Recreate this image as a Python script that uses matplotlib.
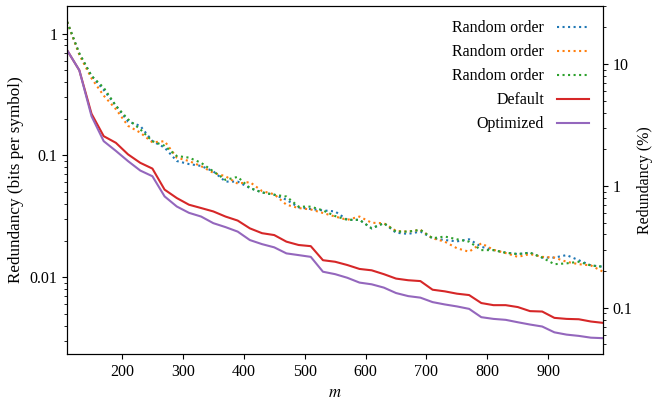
import matplotlib
matplotlib.use("Agg")
import matplotlib.pyplot as plt
from matplotlib.ticker import FuncFormatter, NullFormatter

plt.rcParams['font.family'] = ['Liberation Serif', 'DejaVu Serif']
plt.rcParams['mathtext.fontset'] = 'stix'
plt.rcParams['font.size'] = 11.5

m = list(range(110, 1000, 20))

random_a = [1.25, 0.68, 0.45, 0.345, 0.256, 0.19, 0.175, 0.131, 0.116, 0.09, 0.085,
            0.082, 0.074, 0.061, 0.061, 0.054, 0.0497, 0.0476, 0.0433, 0.0375, 0.0363,
            0.0354, 0.0347, 0.0296, 0.0296, 0.0252, 0.0278, 0.0232, 0.0227, 0.0237, 0.0209,
            0.0202, 0.0197, 0.0205, 0.0178, 0.0167, 0.0159, 0.0155, 0.0159, 0.0145, 0.0145,
            0.0152, 0.0138, 0.0125, 0.0122]
random_b = [1.25, 0.67, 0.43, 0.31, 0.24, 0.175, 0.154, 0.128, 0.131, 0.096, 0.09,
            0.0817, 0.072, 0.0675, 0.0587, 0.0605, 0.051, 0.048, 0.0394, 0.037, 0.036,
            0.0337, 0.0315, 0.0296, 0.0315, 0.028, 0.0278, 0.024, 0.0237, 0.0245, 0.0209,
            0.0196, 0.0173, 0.0162, 0.019, 0.0168, 0.0158, 0.0147, 0.0155, 0.0147, 0.0145,
            0.0134, 0.0128, 0.0125, 0.0111]
random_c = [1.25, 0.69, 0.45, 0.36, 0.256, 0.198, 0.164, 0.131, 0.12, 0.099, 0.096,
            0.087, 0.074, 0.063, 0.0667, 0.054, 0.0497, 0.0476, 0.046, 0.038, 0.038,
            0.0354, 0.0318, 0.0296, 0.0296, 0.0252, 0.0278, 0.0237, 0.0237, 0.0245, 0.0209,
            0.0216, 0.0205, 0.0196, 0.0167, 0.0167, 0.0159, 0.0155, 0.0159, 0.0145, 0.0128,
            0.013, 0.0134, 0.0125, 0.0122]
default = [0.73, 0.50, 0.22, 0.144, 0.127, 0.102, 0.087, 0.078, 0.0524, 0.0447, 0.0394,
           0.037, 0.0347, 0.0315, 0.0292, 0.0252, 0.023, 0.0222, 0.0196, 0.0184, 0.018,
           0.0138, 0.0134, 0.0126, 0.0117, 0.0114, 0.0106, 0.00975, 0.00945, 0.0093, 0.0079,
           0.00766, 0.00733, 0.00714, 0.00614, 0.0059, 0.0059, 0.00569, 0.00527, 0.00523,
           0.00464, 0.00455, 0.00452, 0.00433, 0.00422]
optimized = [0.73, 0.50, 0.21, 0.131, 0.109, 0.0898, 0.0752, 0.0675, 0.0461, 0.0381, 0.0338,
             0.0315, 0.0278, 0.0258, 0.0237, 0.0202, 0.0187, 0.0176, 0.0157, 0.0152, 0.0147,
             0.0111, 0.0106, 0.0099, 0.00904, 0.00875, 0.00822, 0.00742, 0.007, 0.0068, 0.00625,
             0.00598, 0.00576, 0.0055, 0.0047, 0.00455, 0.00447, 0.00427, 0.00409, 0.00394,
             0.00353, 0.00338, 0.0033, 0.00319, 0.00316]

percent_factor = 17.8

fig = plt.figure(figsize=(6.52, 4.03), dpi=100)
ax = fig.add_axes([0.103, 0.1216, 0.822, 0.8634])

ax.plot(m, random_a, ':', color='tab:blue', lw=1.5, label='Random order')
ax.plot(m, random_b, ':', color='tab:orange', lw=1.5, label='Random order')
ax.plot(m, random_c, ':', color='tab:green', lw=1.5, label='Random order')
ax.plot(m, default, '-', color='tab:red', lw=1.5, label='Default')
ax.plot(m, optimized, '-', color='tab:purple', lw=1.5, label='Optimized')

ax.set_yscale('log')
ax.set_xlim(m[0], m[-1])
fmt = FuncFormatter(lambda v, p: '{:g}'.format(v))
ax.yaxis.set_major_formatter(fmt)
ax.yaxis.set_minor_formatter(NullFormatter())
ax.set_xlabel('$m$', fontsize=12)
ax.set_ylabel('Redundancy (bits per symbol)', fontsize=12.3)
ax.legend(loc='upper right', frameon=False, markerfirst=False)

lo, hi = ax.get_ylim()
ax2 = ax.twinx()
ax2.set_yscale('log')
ax2.set_ylim(lo * percent_factor, hi * percent_factor)
ax2.yaxis.set_major_formatter(fmt)
ax2.yaxis.set_minor_formatter(NullFormatter())
ax2.set_ylabel('Redundancy (%)', fontsize=11.5, labelpad=3)

fig.savefig('out.png', dpi=100)
